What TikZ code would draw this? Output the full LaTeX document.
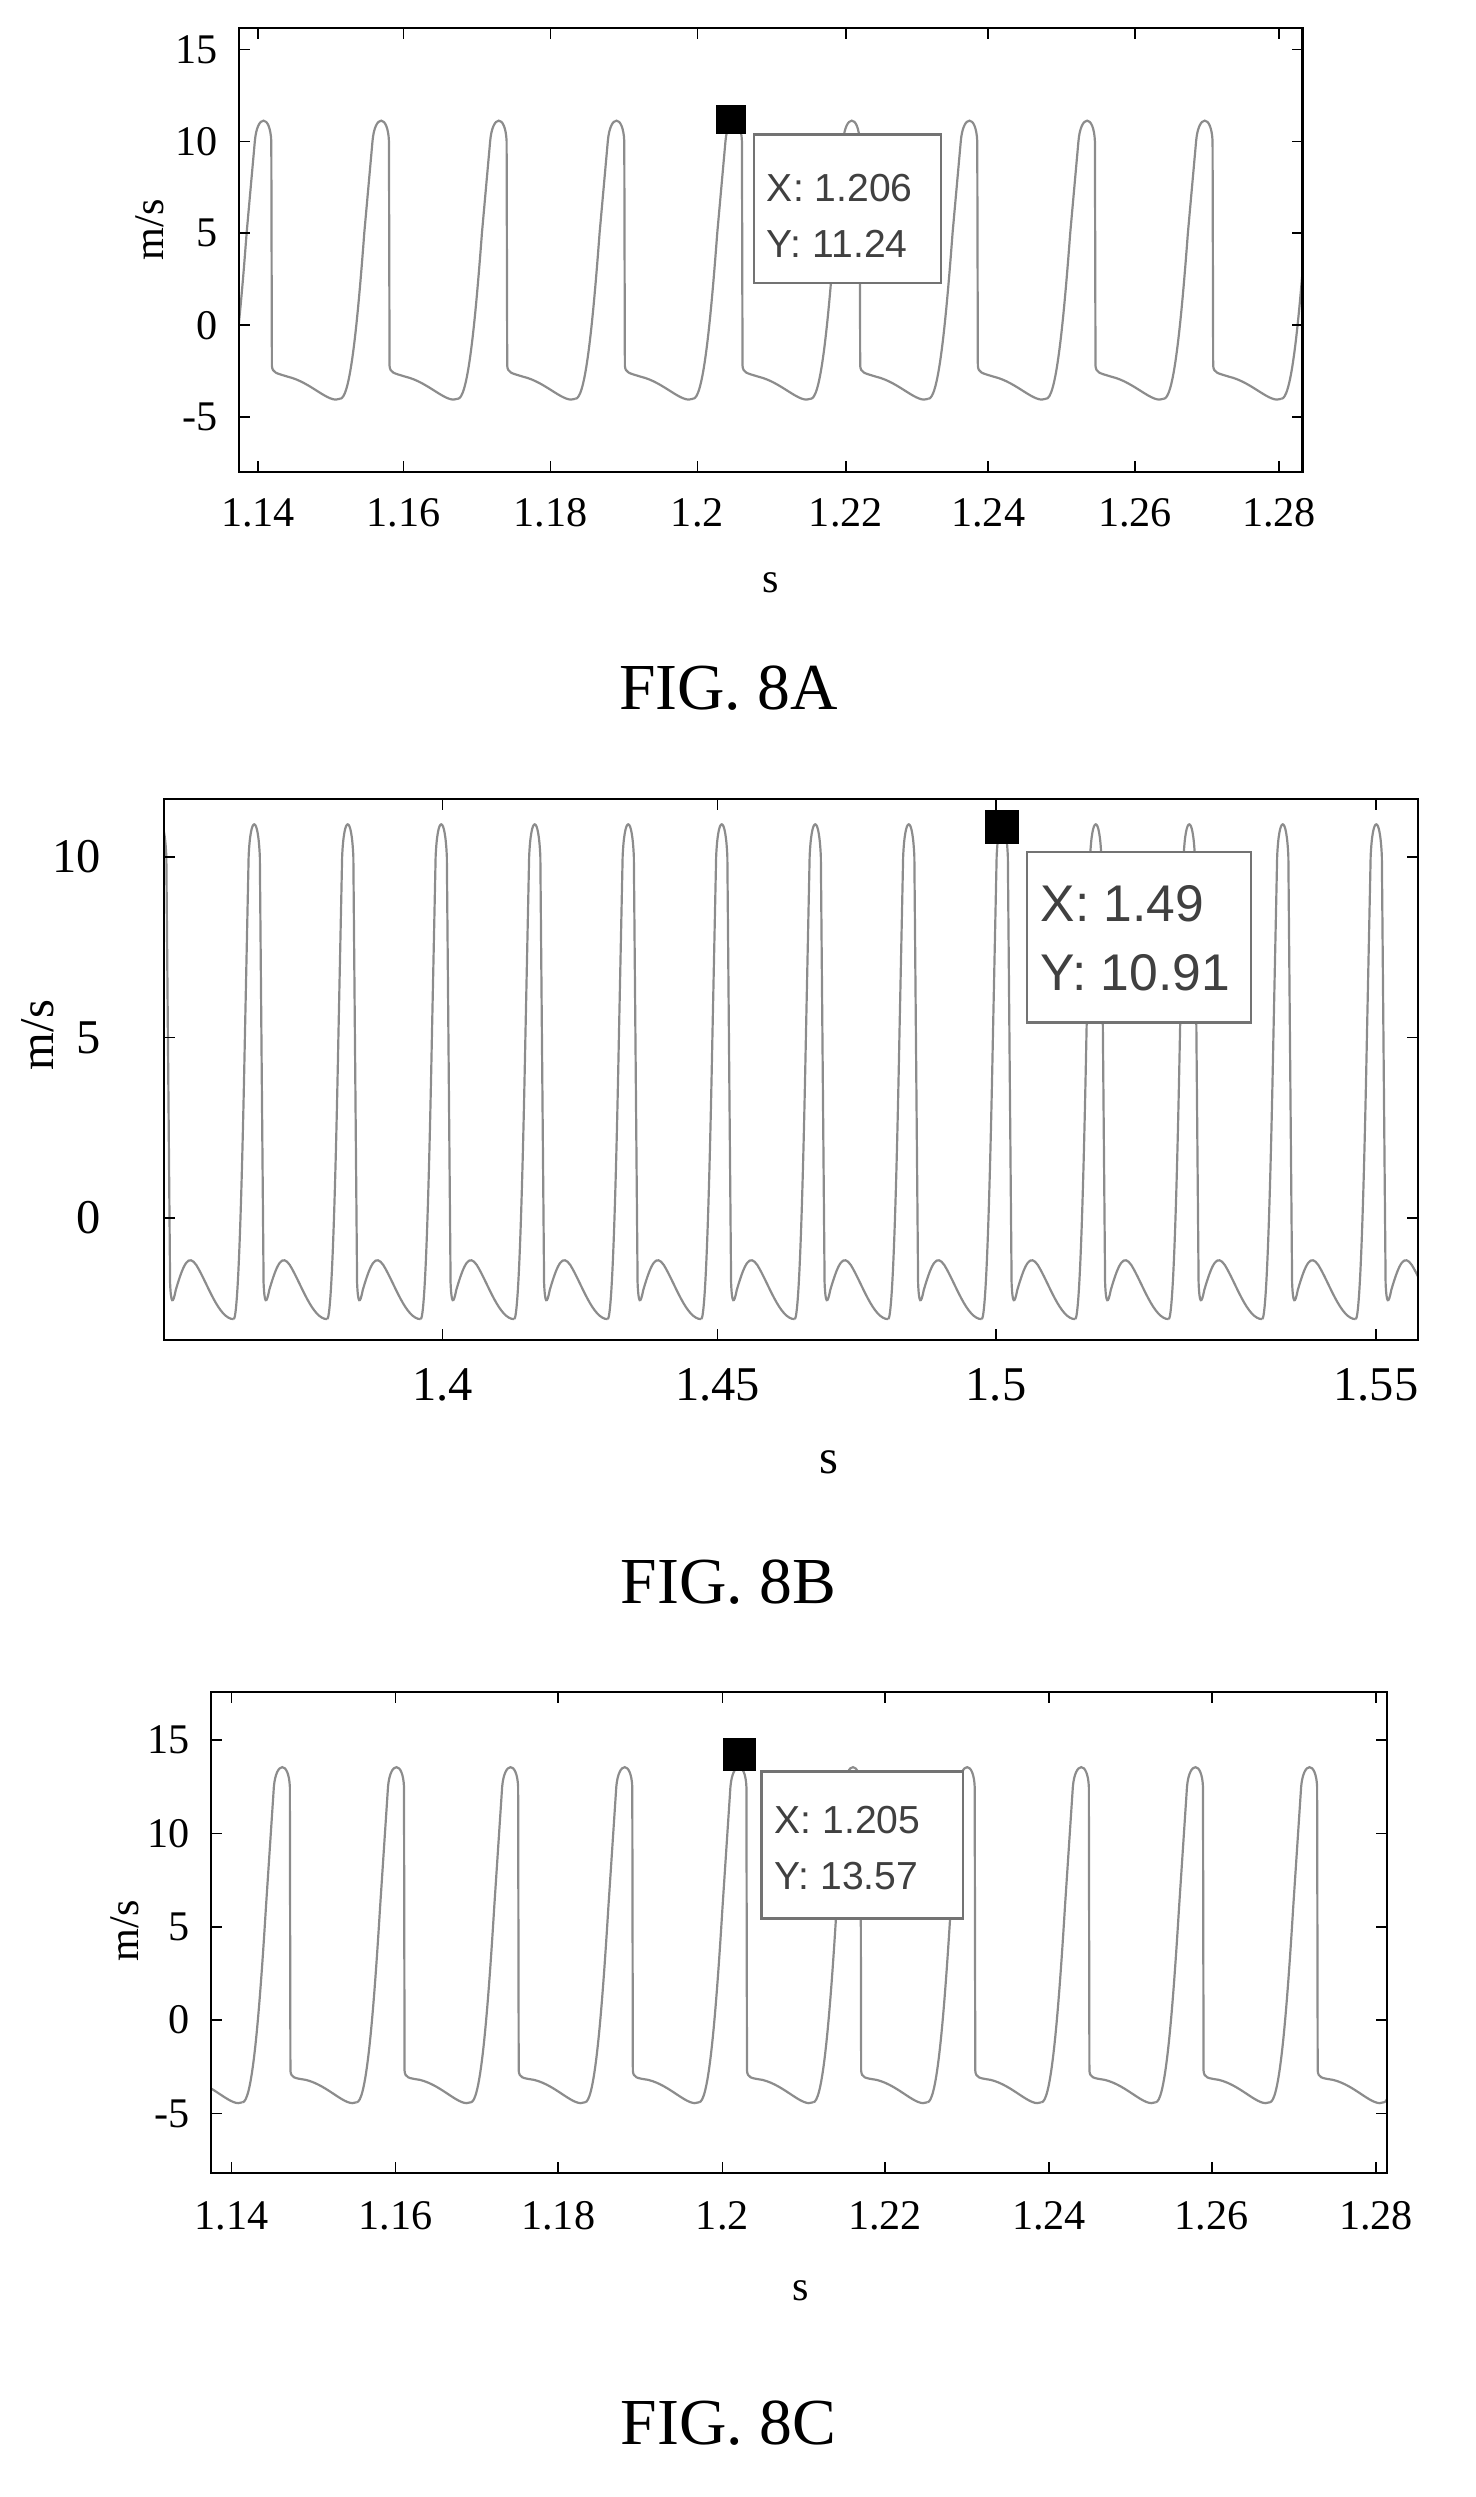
\documentclass[tikz,border=0pt]{standalone}
\usepackage{fontspec}
\setmainfont{Liberation Serif}
\newfontfamily\tipfont{Liberation Sans}
\begin{document}
\begin{tikzpicture}[x=1pt,y=-1pt,
  trace/.style={draw=black!45,line width=1.4pt},
  frame/.style={draw=black,line width=1.4pt},
  tick/.style={draw=black,line width=1pt},
  tip/.style={draw=black!55,fill=white,line width=1.4pt},
  tipmark/.style={fill=black},
  tl/.style={font=\fontsize{27}{29}\selectfont},
  tlb/.style={font=\fontsize{31}{33}\selectfont},
  ttl/.style={font=\fontsize{42}{44}\selectfont},
  tiptxt/.style={font=\tipfont\fontsize{25}{27}\selectfont,text=black!75,anchor=west},
  declare function={fy(\v)=\zz-\kk*\v;}]
\useasboundingbox (0,0) rectangle (944,1597);
% ================= A =================
\def\zz{208}\def\kk{11.76}\def\P{75.25}
\begin{scope}
\clip (153,18) rectangle (833,302);
\foreach \c in {93.75,169,244.25,319.5,394.75,470,545.25,620.5,695.75,771,846.25}{
\draw[trace] ({\c-0.355*\P},{fy(-4)}) .. controls ({\c-0.28*\P},{fy(-4)}) and ({\c-0.22*\P},{fy(-1)}) .. ({\c-0.15*\P},{fy(5)})
 -- ({\c-0.08*\P},{fy(10)}) .. controls ({\c-0.06*\P},{fy(11.5)}) and ({\c+0.05*\P},{fy(11.5)}) .. ({\c+0.06*\P},{fy(10)})
 -- ({\c+0.065*\P},{fy(-2.2)}) .. controls ({\c+0.07*\P},{fy(-2.6)}) and ({\c+0.1*\P},{fy(-2.6)}) .. ({\c+0.2*\P},{fy(-2.8)})
 .. controls ({\c+0.4*\P},{fy(-3.1)}) and ({\c+0.55*\P},{fy(-4.3)}) .. ({\c+0.645*\P},{fy(-4)});}
\end{scope}
\draw[frame] (153,18) rectangle (833,302);
\foreach \x in {165,258,352,446,541,632,726,818}{\draw[tick] (\x,302)--(\x,295); \draw[tick] (\x,18)--(\x,25);}
\foreach \v in {15,10,5,0,-5}{\draw[tick] (153,{fy(\v)})--(160,{fy(\v)}); \draw[tick] (833,{fy(\v)})--(826,{fy(\v)});
  \node[tl,anchor=east] at (143,{fy(\v)}) {\v};}
\foreach \x/\t in {165/1.14,258/1.16,352/1.18,446/1.2,541/1.22,632/1.24,726/1.26,818/1.28}{\node[tl] at (\x,328) {\t};}
\node[tl,rotate=90] (yla) at (96,147) {m/s};
\node[tl] (xla) at (493,373) {s};
\node[ttl] (figa) at (466,440) {FIG. 8A};
\node[tip,minimum width=120pt,minimum height=95pt,inner sep=0pt] (tipa) at (542,133.5) {};
\node[tipmark,minimum size=19pt,inner sep=0pt] (ma) at (467.5,76.5) {};
\node[tiptxt] at (487,120) {X: 1.206};
\node[tiptxt] at (487,156) {Y: 11.24};
% ================= B =================
\def\zz{779}\def\kk{23.1}\def\P{59.8}
\begin{scope}
\clip (105,511) rectangle (907,857);
\foreach \c in {102.8,162.6,222.4,282.2,342,401.8,461.6,521.4,581.2,641,700.8,760.6,820.4,880.2,940}{
\draw[trace] ({\c-0.22*\P},{fy(-2.8)}) .. controls ({\c-0.17*\P},{fy(-2.8)}) and ({\c-0.13*\P},{fy(1)}) .. ({\c-0.1*\P},{fy(5)})
 -- ({\c-0.06*\P},{fy(10)}) .. controls ({\c-0.04*\P},{fy(11.2)}) and ({\c+0.04*\P},{fy(11.2)}) .. ({\c+0.06*\P},{fy(10)})
 -- ({\c+0.1*\P},{fy(-1.8)}) .. controls ({\c+0.11*\P},{fy(-2.4)}) and ({\c+0.13*\P},{fy(-2.4)}) .. ({\c+0.16*\P},{fy(-2.0)})
 .. controls ({\c+0.25*\P},{fy(-1.2)}) and ({\c+0.3*\P},{fy(-1.0)}) .. ({\c+0.38*\P},{fy(-1.3)})
 .. controls ({\c+0.5*\P},{fy(-1.8)}) and ({\c+0.62*\P},{fy(-2.8)}) .. ({\c+0.78*\P},{fy(-2.8)});}
\end{scope}
\draw[frame] (105,511) rectangle (907,857);
\foreach \x in {283,459,637,880}{\draw[tick] (\x,857)--(\x,850); \draw[tick] (\x,511)--(\x,518);}
\foreach \v in {10,5,0}{\draw[tick] (105,{fy(\v)})--(112,{fy(\v)}); \draw[tick] (907,{fy(\v)})--(900,{fy(\v)});
  \node[tlb,anchor=east] at (68,{fy(\v)}) {\v};}
\foreach \x/\t in {283/1.4,459/1.45,637/1.5,880/1.55}{\node[tlb] at (\x,886) {\t};}
\node[tlb,rotate=90] (ylb) at (24,662) {m/s};
\node[tlb] (xlb) at (530,935) {s};
\node[ttl] (figb) at (466,1012) {FIG. 8B};
\node[tip,minimum width=143pt,minimum height=109pt,inner sep=0pt] (tipb) at (728.5,599.5) {};
\node[tipmark,minimum size=22pt,inner sep=0pt] (mb) at (641,529) {};
\node[tiptxt,font=\tipfont\fontsize{33}{35}\selectfont] at (662,578) {X: 1.49};
\node[tiptxt,font=\tipfont\fontsize{33}{35}\selectfont] at (662,622) {Y: 10.91};
% ================= C =================
\def\zz{1292}\def\kk{11.94}\def\P{73}
\begin{scope}
\clip (135,1082) rectangle (887,1390);
\foreach \c in {108,181,254,327,400,473,546,619,692,765,838,911}{
\draw[trace] ({\c-0.355*\P},{fy(-4.4)}) .. controls ({\c-0.28*\P},{fy(-4.4)}) and ({\c-0.22*\P},{fy(-1)}) .. ({\c-0.15*\P},{fy(6)})
 -- ({\c-0.08*\P},{fy(12.5)}) .. controls ({\c-0.06*\P},{fy(13.9)}) and ({\c+0.05*\P},{fy(13.9)}) .. ({\c+0.06*\P},{fy(12.5)})
 -- ({\c+0.065*\P},{fy(-2.7)}) .. controls ({\c+0.07*\P},{fy(-3.1)}) and ({\c+0.1*\P},{fy(-3.1)}) .. ({\c+0.2*\P},{fy(-3.2)})
 .. controls ({\c+0.4*\P},{fy(-3.5)}) and ({\c+0.55*\P},{fy(-4.7)}) .. ({\c+0.645*\P},{fy(-4.4)});}
\end{scope}
\draw[frame] (135,1082) rectangle (887,1390);
\foreach \x in {148,253,357,462,566,671,775,880}{\draw[tick] (\x,1390)--(\x,1383); \draw[tick] (\x,1082)--(\x,1089);}
\foreach \v in {15,10,5,0,-5}{\draw[tick] (135,{fy(\v)})--(142,{fy(\v)}); \draw[tick] (887,{fy(\v)})--(880,{fy(\v)});
  \node[tl,anchor=east] at (125,{fy(\v)}) {\v};}
\foreach \x/\t in {148/1.14,253/1.16,357/1.18,462/1.2,566/1.22,671/1.24,775/1.26,880/1.28}{\node[tl] at (\x,1417) {\t};}
\node[tl,rotate=90] (ylc) at (80,1235) {m/s};
\node[tl] (xlc) at (512,1465) {s};
\node[ttl] (figc) at (466,1550) {FIG. 8C};
\node[tip,minimum width=129pt,minimum height=94pt,inner sep=0pt] (tipc) at (551.5,1180) {};
\node[tipmark,minimum size=21pt,inner sep=0pt] (mc) at (473,1122) {};
\node[tiptxt] at (492,1164) {X: 1.205};
\node[tiptxt] at (492,1200) {Y: 13.57};
\end{tikzpicture}
\end{document}
